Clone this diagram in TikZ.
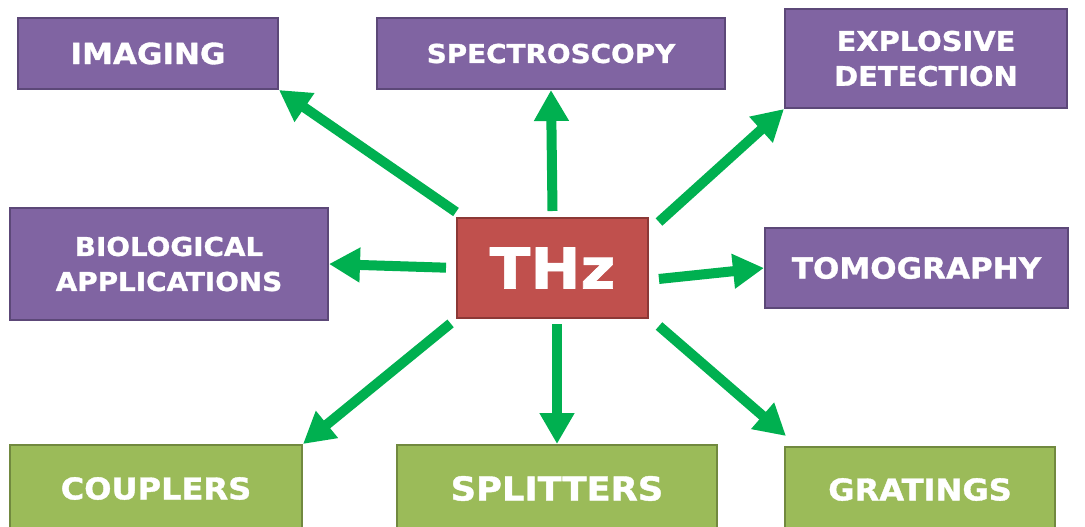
\documentclass[tikz,border=0pt]{standalone}
\usepackage{fontspec}
\setmainfont{DejaVu Sans}
\newfontfamily\boxfont{DejaVu Sans}[FakeStretch=1.07,FakeBold=1.2]
\usetikzlibrary{arrows.meta,calc,positioning}
\definecolor{thzpurple}{RGB}{128,100,162}
\definecolor{thzpurpleedge}{RGB}{92,72,120}
\definecolor{thzred}{RGB}{192,80,77}
\definecolor{thzrededge}{RGB}{140,56,54}
\definecolor{thzolive}{RGB}{155,187,89}
\definecolor{thzoliveedge}{RGB}{113,137,63}
\definecolor{thzgreen}{RGB}{0,176,80}
\newcommand{\lblsize}[1]{\fontsize{#1}{35}\selectfont\boxfont\bfseries}
\tikzset{
  tbox/.style={line width=2pt,text=white,align=center,inner sep=0pt},
  appbox/.style={tbox,draw=thzpurpleedge,fill=thzpurple},
  partbox/.style={tbox,draw=thzoliveedge,fill=thzolive},
  corebox/.style={tbox,draw=thzrededge,fill=thzred},
  ray/.style={thzgreen,line width=10pt,-{Triangle[length=31pt,width=33pt]}}
}

\begin{document}
\begin{tikzpicture}[x=1pt,y=-1pt]
\useasboundingbox (0,0) rectangle (1085,527);
\node[appbox,minimum width=260,minimum height=71,font=\lblsize{29}] (imaging) at (148,53.5) {IMAGING};
\node[appbox,minimum width=348,minimum height=71,font=\lblsize{26}] (spectroscopy) at (551,53.5) {SPECTROSCOPY};
\node[appbox,minimum width=282,minimum height=99,font=\lblsize{27}] (explosive) at (926,58.5) {EXPLOSIVE\\DETECTION};
\node[appbox,minimum width=318,minimum height=112,font=\lblsize{26}] (bio) at (169,264) {BIOLOGICAL\\APPLICATIONS};
\node[appbox,minimum width=303,minimum height=80,font=\lblsize{29}] (tomography) at (916.5,268) {TOMOGRAPHY};
\node[corebox,minimum width=191,minimum height=100,font=\lblsize{56}] (thz) at (552.5,268) {THz};
\node[partbox,minimum width=292,minimum height=87,font=\lblsize{30}] (couplers) at (156,488.5) {COUPLERS};
\node[partbox,minimum width=320,minimum height=87,font=\lblsize{33}] (splitters) at (557,488.5) {SPLITTERS};
\node[partbox,minimum width=270,minimum height=85,font=\lblsize{30}] (gratings) at (920,489.5) {GRATINGS};

\draw[ray] ([yshift=5pt]thz.north west) -- (imaging.south east);
\draw[ray] ([yshift=6pt]thz.north) -- (spectroscopy.south);
\draw[ray] ([xshift=10pt,yshift=-5pt]thz.north east) -- (explosive.south west);
\draw[ray,shorten <=10pt] (thz.west) -- (bio.east);
\draw[ray,shorten <=10pt] ([yshift=-12pt]thz.east) -- (tomography.west);
\draw[ray,shorten <=7pt] (thz.south west) -- (couplers.north east);
\draw[ray,shorten <=5pt] (thz.south -| splitters.north) -- (splitters.north);
\draw[ray] ([xshift=10pt,yshift=-7pt]thz.south east) -- ([xshift=2pt,yshift=10pt]gratings.north west);
\end{tikzpicture}
\end{document}
